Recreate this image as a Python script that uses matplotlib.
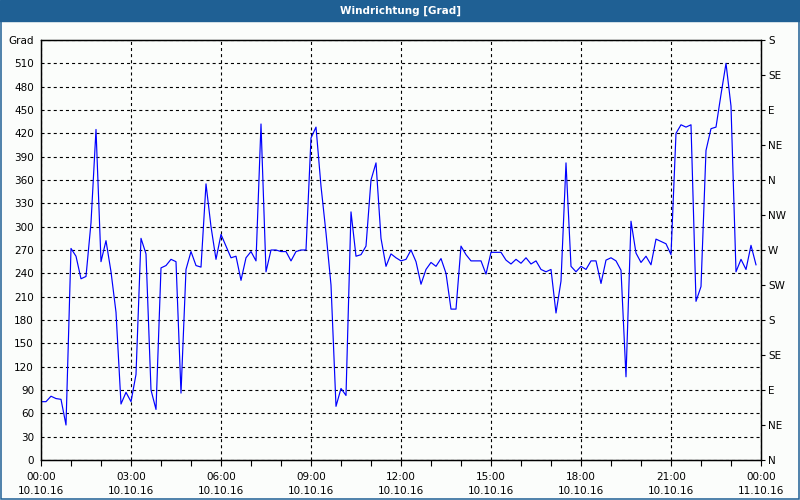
"""
Windrichtung (wind direction) over one day, 10-minute values.
Recreates the station viewer chart: blue title bar, degree axis on the
left, compass labels on the right.
"""

import numpy as np
import matplotlib
matplotlib.use('Agg')
import matplotlib.pyplot as plt
from matplotlib.patches import Rectangle


# ─────────────────────────────────────────────────────────────────────
# Data: wind direction [deg], one value every 10 minutes, 10.10.16
# ─────────────────────────────────────────────────────────────────────

wind_dir = [
    75, 75, 82, 79, 78, 45, 272, 262, 233, 236, 305, 425,
    255, 282, 242, 190, 72, 87, 75, 110, 285, 265, 90, 65,
    247, 250, 258, 255, 86, 245, 268, 250, 248, 355, 300, 258,
    290, 275, 260, 262, 231, 260, 268, 256, 432, 242, 270, 270,
    268, 268, 256, 268, 270, 270, 414, 428, 352, 292, 225, 69,
    92, 83, 319, 262, 264, 275, 360, 382, 285, 249, 265, 260,
    256, 258, 270, 255, 226, 245, 254, 249, 259, 240, 194, 194,
    275, 264, 256, 256, 256, 239, 267, 267, 267, 257, 252, 258,
    253, 260, 252, 256, 245, 242, 245, 189, 230, 382, 249, 242,
    249, 245, 256, 256, 227, 257, 260, 256, 244, 107, 307, 266,
    254, 262, 251, 284, 281, 278, 264, 420, 431, 428, 431, 204,
    223, 398, 426, 428, 470, 510, 455, 242, 258, 245, 276, 251,
]
step_minutes = 10

x_tick_hours  = [0, 3, 6, 9, 12, 15, 18, 21, 24]
x_tick_labels = ['00:00\n10.10.16', '03:00\n10.10.16', '06:00\n10.10.16',
                 '09:00\n10.10.16', '12:00\n10.10.16', '15:00\n10.10.16',
                 '18:00\n10.10.16', '21:00\n10.10.16', '00:00\n11.10.16']

deg_ticks   = list(range(0, 541, 30))
deg_labels  = [str(d) for d in deg_ticks[:-1]] + ['Grad']
comp_ticks  = list(range(0, 541, 45))
comp_labels = ['N', 'NE', 'E', 'SE', 'S', 'SW', 'W', 'NW',
               'N', 'NE', 'E', 'SE', 'S']

FRAME_BLUE = '#1f6094'
BG = '#fbfdfb'

plt.rcParams['font.family'] = 'DejaVu Sans'
plt.rcParams['lines.scale_dashes'] = False

fig = plt.figure(figsize=(8, 5), dpi=100, facecolor=BG)
ax = fig.add_axes([41 / 800, 40 / 500, 720 / 800, 420 / 500])
ax.set_facecolor(BG)

hours = np.arange(len(wind_dir)) * step_minutes / 60
ax.plot(hours, wind_dir, color='#0000ff', lw=0.85, zorder=3)

ax.set_xlim(0, 24)
ax.set_ylim(0, 540)

# left degree axis
ax.set_yticks(deg_ticks)
ax.set_yticklabels(deg_labels)
ax.tick_params(axis='y', length=0, pad=5, labelsize=7.5, colors='black')

# bottom time axis
ax.set_xticks(x_tick_hours)
ax.set_xticklabels(x_tick_labels, linespacing=1.45)
ax.set_xticks(range(0, 25), minor=True)
ax.tick_params(axis='x', which='both', length=4, width=0.8, pad=5,
               labelsize=7.5, direction='out')

# dashed grid
ax.grid(True, color='black', lw=0.8, linestyle=(0, (2.2, 2.2)), zorder=1)

# right compass axis
ax2 = ax.twinx()
ax2.set_ylim(0, 540)
ax2.set_yticks(comp_ticks)
ax2.set_yticklabels(comp_labels)
ax2.tick_params(axis='y', length=3, width=0.8, pad=2, labelsize=7.5)

for a in (ax, ax2):
    for s in a.spines.values():
        s.set_linewidth(0.9)
        s.set_color('black')

# title bar and window frame
fig.patches.append(Rectangle((0, 1 - 21 / 500), 1, 21 / 500,
                             transform=fig.transFigure, color=FRAME_BLUE,
                             zorder=0))
fig.patches.append(Rectangle((0.6 / 800, 0.6 / 500), 798.8 / 800, 490 / 500,
                             transform=fig.transFigure, fill=False,
                             edgecolor=FRAME_BLUE, lw=1.1, zorder=0))
fig.text(0.5, 1 - 10.5 / 500, 'Windrichtung [Grad]', color='white',
         fontsize=7.5, fontweight='bold', ha='center', va='center')

fig.savefig('out.png', dpi=100, facecolor=BG)
